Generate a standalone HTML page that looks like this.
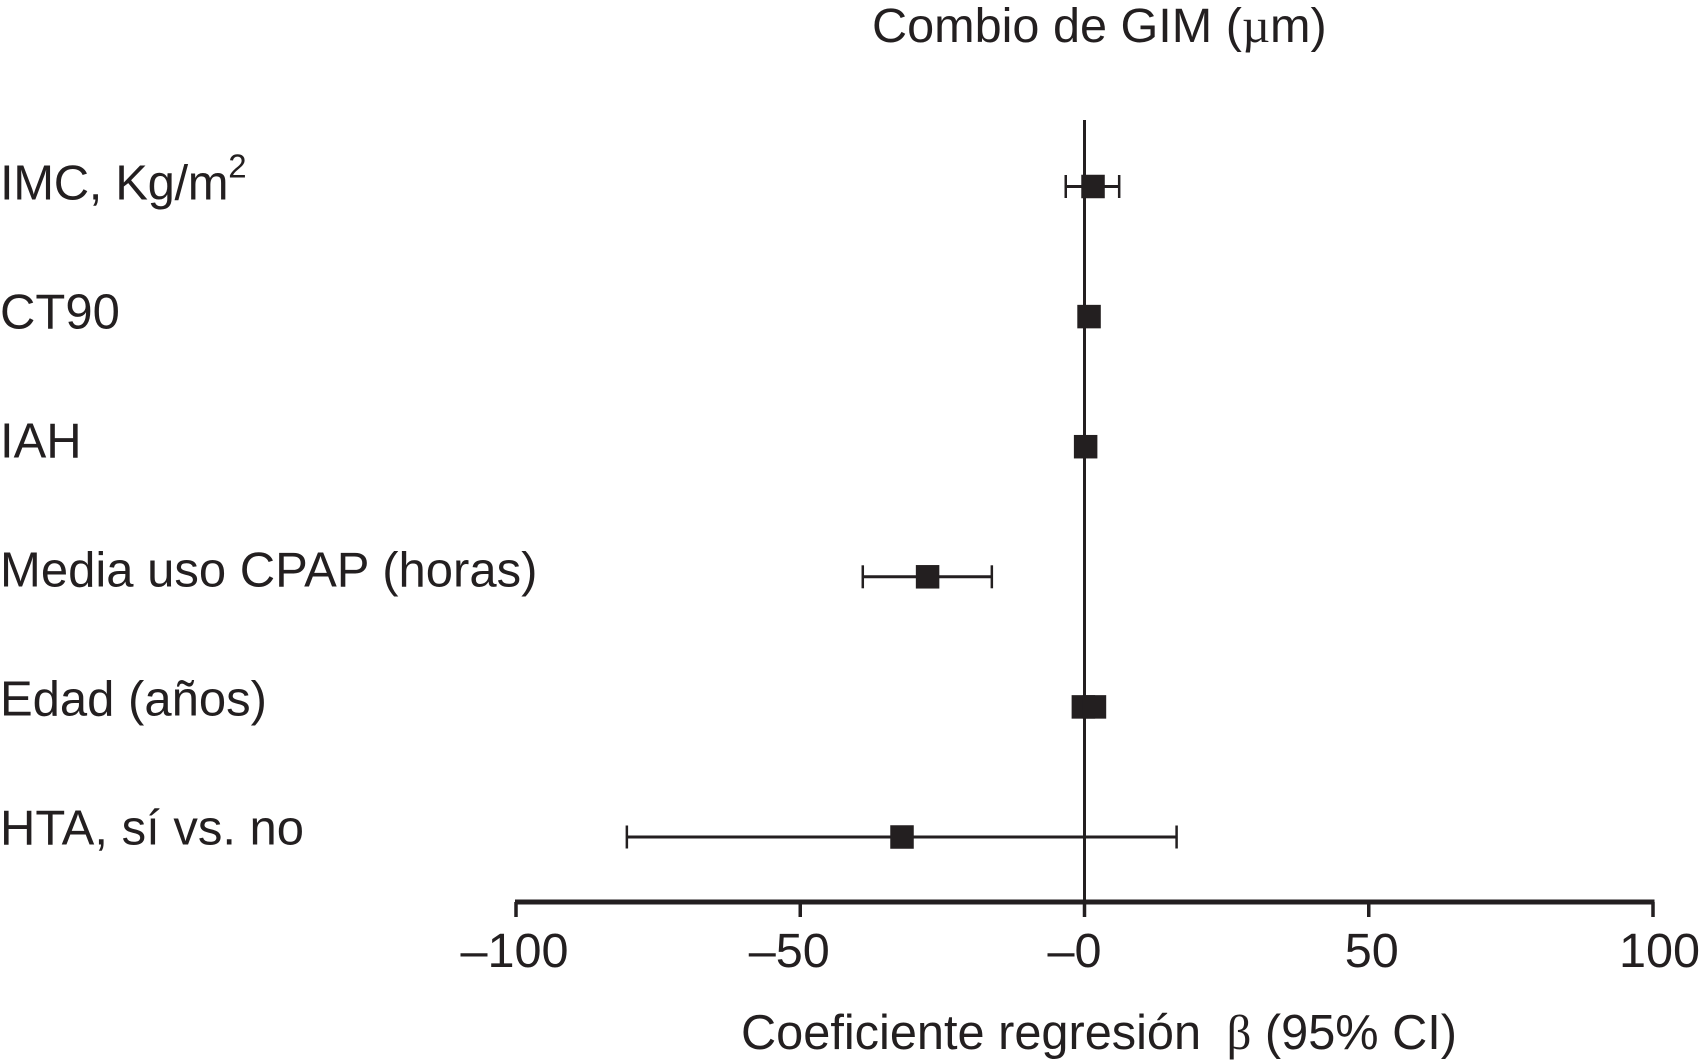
<!DOCTYPE html>
<html lang="es">
<head>
<meta charset="utf-8">
<title>Combio de GIM</title>
<style>
html,body{margin:0;padding:0;background:#fff;}
svg{display:block;}
text{font-family:"Liberation Sans",sans-serif;fill:#231f20;}
</style>
</head>
<body>
<svg id="chart" xmlns="http://www.w3.org/2000/svg" width="1699" height="1063" viewBox="0 0 1699 1063">
  <text x="872" y="42" font-size="48.6">Combio de GIM (<tspan font-family="'Liberation Serif',serif">µ</tspan>m)</text>
  <text x="741" y="1049" font-size="48.7">Coeficiente regresión <tspan dx="12" font-family="'Liberation Serif',serif">β</tspan> (95% CI)</text>
  <g id="marks"></g>
</svg>
<script>
const categories = ['IMC, Kg/m', 'CT90', 'IAH', 'Media uso CPAP (horas)', 'Edad (años)', 'HTA, sí vs. no'];
const categorySuperscripts = ['2', '', '', '', '', ''];
const estimates = [1.5, 0.8, 0.2, -27.6, -0.2, -32.1];
const secondEstimates = [null, null, null, null, 1.75, null];
const ciLow = [-3.3, null, null, -39, null, -80.5];
const ciHigh = [6.1, null, null, -16.3, null, 16.2];
const xTicks = [-100, -50, 0, 50, 100];
const xTickLabels = ['–100', '–50', '–0', '50', '100'];

const INK = '#231f20';
const X0 = 1084.5, XSCALE = 5.685;
const ROW0 = 186.5, ROWSTEP = 130.1;
const LABEL0 = 199.5, LABELSTEP = 129;
const AXIS_Y = 902, TICK_BOTTOM = 917, TOP_Y = 120;
const MARKER = 23.5, CAP = 23;
const svg = document.getElementById('marks');
const NS = 'http://www.w3.org/2000/svg';

function xScale(v) { return X0 + v * XSCALE; }
function yScale(i) { return ROW0 + i * ROWSTEP; }
function labelY(i) { return LABEL0 + i * LABELSTEP; }
function tickNudge(i) { return [-1.5, -11, -10, 3, 6.5][i]; }

function make(tag, attrs) {
  const el = document.createElementNS(NS, tag);
  for (const k in attrs) el.setAttribute(k, attrs[k]);
  svg.appendChild(el);
  return el;
}
function line(x1, y1, x2, y2, w) {
  return make('line', { x1: x1, y1: y1, x2: x2, y2: y2, stroke: INK, 'stroke-width': w });
}

// zero reference line
const zeroLine = line(xScale(0), TOP_Y, xScale(0), AXIS_Y, 3);



// x axis
const axisLine = line(xScale(xTicks[0]) - 1, AXIS_Y, xScale(xTicks[xTicks.length - 1]) + 1.5, AXIS_Y, 5);



xTicks.forEach(function (t, i) {
  const tick = line(xScale(t), AXIS_Y, xScale(t), TICK_BOTTOM, 3.5);
  
  
  const lab = make('text', { x: xScale(t) + tickNudge(i), y: 967, 'font-size': 48.6, 'text-anchor': 'middle' });
  lab.textContent = xTickLabels[i];
  
  
});

categories.forEach(function (c, i) {
  const lab = make('text', { x: 0, y: labelY(i), 'font-size': 49 });
  lab.textContent = c;
  
  
  if (categorySuperscripts[i]) {
    lab.setAttribute('letter-spacing', -0.35);
    const sup = document.createElementNS(NS, 'tspan');
    sup.setAttribute('font-size', 33);
    sup.setAttribute('dy', -22);
    sup.textContent = categorySuperscripts[i];
    lab.appendChild(sup);
  }
  const y = yScale(i);
  if (ciLow[i] !== null) {
    const ci = line(xScale(ciLow[i]), y, xScale(ciHigh[i]), y, 3);
    
    
    const capL = line(xScale(ciLow[i]), y - CAP / 2, xScale(ciLow[i]), y + CAP / 2, 2.5);
    
    
    const capH = line(xScale(ciHigh[i]), y - CAP / 2, xScale(ciHigh[i]), y + CAP / 2, 2.5);
    
    
  }
  const m = make('rect', { x: xScale(estimates[i]) - MARKER / 2, y: y - MARKER / 2, width: MARKER, height: MARKER, fill: INK });
  
  
  if (secondEstimates[i] !== null) {
    const m2 = make('rect', { x: xScale(secondEstimates[i]) - MARKER / 2, y: y - MARKER / 2, width: MARKER, height: MARKER, fill: INK });
    
    
  }
});
</script>
</body>
</html>
